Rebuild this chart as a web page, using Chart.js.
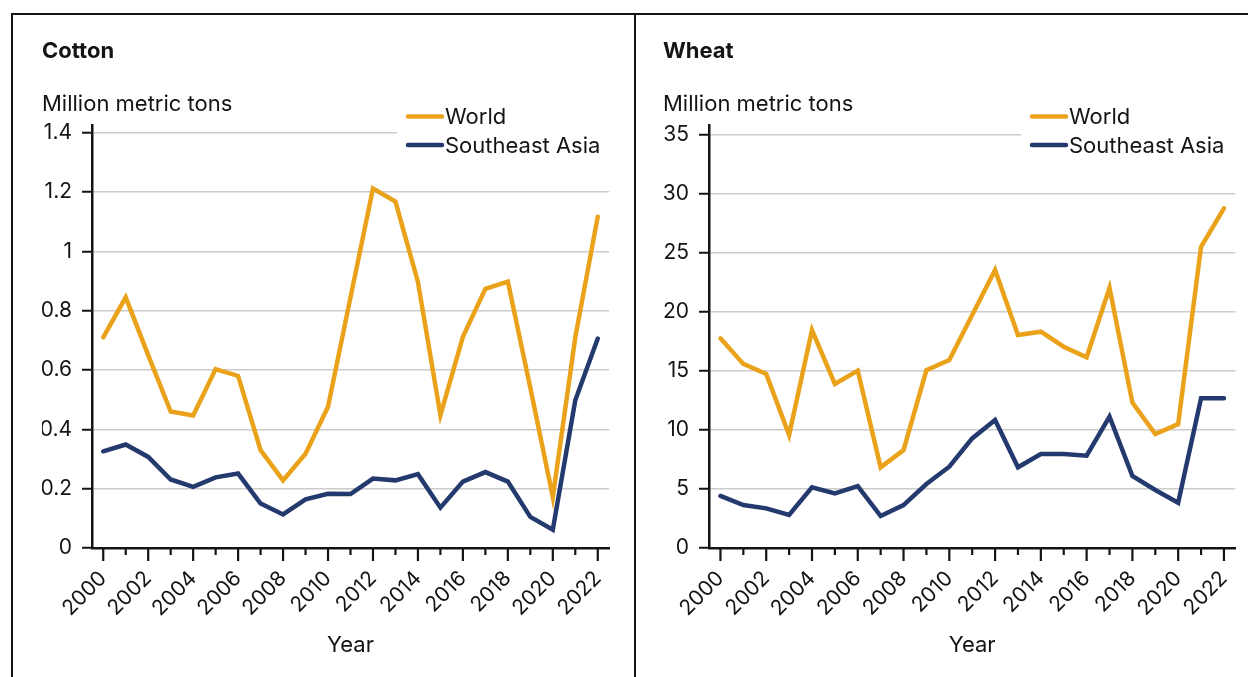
<!DOCTYPE html>
<html>
<head>
<meta charset="utf-8">
<script src="https://cdn.jsdelivr.net/npm/chart.js@4.4.0/dist/chart.umd.min.js"></script>
<style>
  body { margin: 0; background: #fff; width: 1248px; height: 677px; overflow: hidden; position: relative; }
  .panel { position: absolute; top: 13px; height: 664px; border-top: 2px solid #151515; border-left: 2px solid #151515; box-sizing: border-box; }
  #p1 { left: 11px; width: 623px; }
  #p2 { left: 634px; width: 614px; }
  canvas { position: absolute; top: 15px; }
  #cotton { left: 42px; }
  #wheat { left: 663px; }
</style>
</head>
<body>
<div class="panel" id="p1"></div>
<div class="panel" id="p2"></div>
<canvas id="cotton" width="592" height="662"></canvas>
<canvas id="wheat" width="585" height="662"></canvas>
<script>
// data (million metric tons)
const years = ['2000', '2001', '2002', '2003', '2004', '2005', '2006', '2007', '2008', '2009', '2010', '2011',
               '2012', '2013', '2014', '2015', '2016', '2017', '2018', '2019', '2020', '2021', '2022'];

const cottonWorld = [0.71, 0.845, 0.65, 0.46, 0.447, 0.603, 0.58, 0.33, 0.228, 0.318, 0.476, 0.845,
                     1.212, 1.168, 0.897, 0.448, 0.712, 0.874, 0.898, 0.54, 0.172, 0.71, 1.117];
const cottonSEAsia = [0.326, 0.349, 0.307, 0.231, 0.206, 0.238, 0.251, 0.150, 0.113, 0.164, 0.183, 0.182,
                      0.234, 0.228, 0.249, 0.136, 0.224, 0.256, 0.224, 0.105, 0.062, 0.498, 0.706];

const wheatWorld = [17.77, 15.6, 14.75, 9.58, 18.47, 13.9, 15.03, 6.84, 8.3, 15.08, 15.93, 19.75,
                    23.56, 18.05, 18.33, 17.06, 16.16, 22.06, 12.32, 9.66, 10.5, 25.53, 28.79];
const wheatSEAsia = [4.41, 3.64, 3.36, 2.80, 5.14, 4.63, 5.25, 2.71, 3.64, 5.42, 6.89, 9.29,
                     10.85, 6.84, 7.97, 7.97, 7.82, 11.13, 6.10, 4.92, 3.84, 12.69, 12.69];

const cottonTicks = [0, 0.2, 0.4, 0.6, 0.8, 1, 1.2, 1.4];
const wheatTicks = [0, 5, 10, 15, 20, 25, 30, 35];

const seriesNames = ['World', 'Southeast Asia'];
const seriesColors = ['#e9a21a', '#243a6e'];

Chart.defaults.font.family = 'Inter, "Noto Sans", sans-serif';
Chart.defaults.font.size = 22;
Chart.defaults.color = '#141414';

// major (even year) and minor (odd year) tick marks under the x axis
const yearTicks = {
    id: 'yearTicks',
    afterDraw(chart) {
        const x = chart.scales.x;
        const ctx = chart.ctx;
        ctx.save();
        ctx.strokeStyle = '#141414';
        ctx.lineWidth = 2.2;
        x.ticks.forEach((t, i) => {
            const px = x.getPixelForTick(i);
            const len = i % 2 === 0 ? 13 : 7;
            ctx.beginPath();
            ctx.moveTo(px, x.top);
            ctx.lineTo(px, x.top + len);
            ctx.stroke();
        });
        ctx.restore();
    }
};

// legend sitting over the top gridline, on a white patch
const boxLegend = {
    id: 'boxLegend',
    afterDraw(chart, args, opts) {
        const ctx = chart.ctx;
        const area = chart.chartArea;
        ctx.save();
        ctx.fillStyle = '#fff';
        ctx.fillRect(opts.x - 9, opts.y - 16, area.right - opts.x + 9, 60);
        chart.data.datasets.forEach((ds, i) => {
            const y = opts.y + i * 28.5;
            ctx.strokeStyle = ds.borderColor;
            ctx.lineWidth = 4.5;
            ctx.lineCap = 'round';
            ctx.beginPath();
            ctx.moveTo(opts.x + 2, y);
            ctx.lineTo(opts.x + 36, y);
            ctx.stroke();
            ctx.fillStyle = '#141414';
            ctx.font = '22px Inter, "Noto Sans", sans-serif';
            ctx.textBaseline = 'middle';
            ctx.fillText(ds.label, opts.x + 39, y + 1);
        });
        ctx.restore();
    }
};

function makeChart(id, title, world, seAsia, yTicks, yMax, yWidth, padRight, legendX) {
    const ctx = document.getElementById(id).getContext('2d');
    return new Chart(ctx, {
        type: 'line',
        data: {
            labels: years,
            datasets: [world, seAsia].map((vals, i) => ({
                label: seriesNames[i],
                data: vals,
                borderColor: seriesColors[i],
                borderWidth: 4.5,
                borderCapStyle: 'round',
                tension: 0,
                pointRadius: 0,
                fill: false
            }))
        },
        options: {
            responsive: false,
            animation: false,
            layout: { padding: { left: 0, right: padRight, top: 0, bottom: 0 } },
            plugins: {
                legend: { display: false },
                tooltip: { enabled: false },
                title: {
                    display: true, text: title, align: 'start',
                    font: { size: 22, weight: 'bold' },
                    padding: { top: 22.8, bottom: 26.6 }
                },
                subtitle: {
                    display: true, text: 'Million metric tons', align: 'start',
                    font: { size: 22 },
                    padding: { top: 0, bottom: 7.8 }
                },
                boxLegend: { x: legendX, y: 101.5 }
            },
            scales: {
                x: {
                    type: 'category',
                    offset: true,
                    afterFit: s => { s.height = 129; },
                    grid: { drawOnChartArea: false, offset: false, tickLength: 12, tickColor: 'rgba(0,0,0,0)' },
                    border: { color: '#141414', width: 2.5 },
                    ticks: {
                        autoSkip: false, maxRotation: 45, minRotation: 45, padding: 6,
                        font: { size: 21 },
                        callback: (v, i) => i % 2 === 0 ? years[i] : ''
                    },
                    title: { display: true, text: 'Year', padding: { top: 0, bottom: 18 } }
                },
                y: {
                    min: 0,
                    max: yMax,
                    afterBuildTicks: s => { s.ticks = yTicks.map(v => ({ value: v })); },
                    afterFit: s => { s.width = yWidth; },
                    ticks: { padding: 10, font: { size: 21 }, callback: v => String(v) },
                    grid: { color: '#cccccc', lineWidth: 1.5, tickLength: 10, tickColor: '#141414', tickWidth: 2 },
                    border: { color: '#141414', width: 2.5 }
                }
            }
        },
        plugins: [yearTicks, boxLegend]
    });
}

makeChart('cotton', 'Cotton', cottonWorld, cottonSEAsia, cottonTicks, 1.426, 50, 25, 364);
makeChart('wheat', 'Wheat', wheatWorld, wheatSEAsia, wheatTicks, 35.85, 46, 11, 367);
</script>
</body>
</html>
